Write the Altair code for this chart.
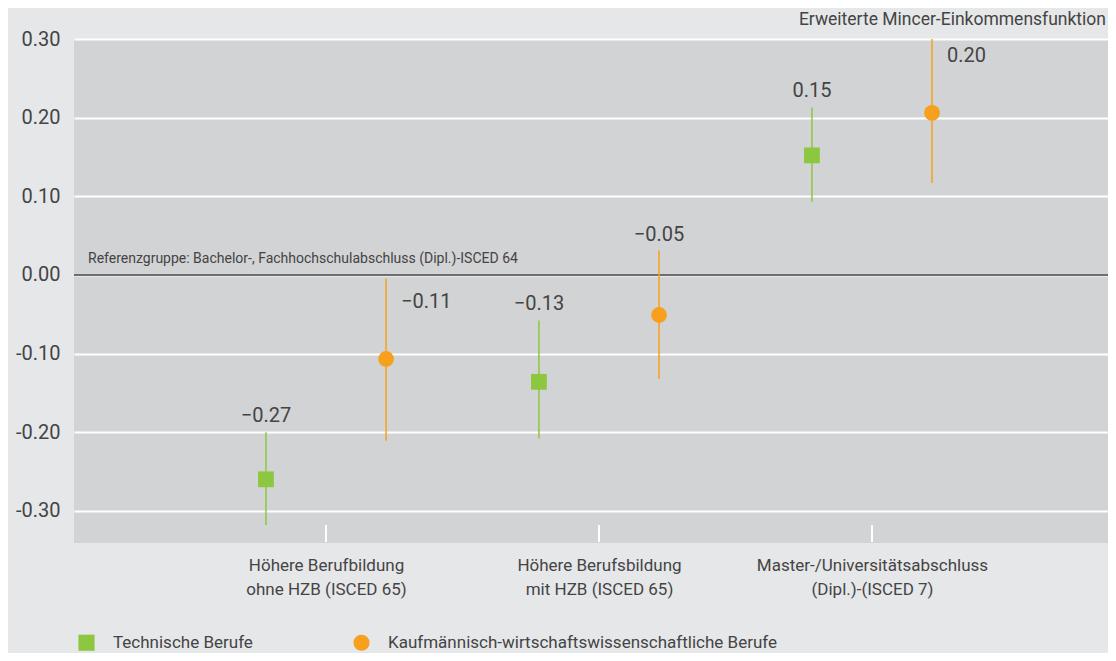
import altair as alt
import pandas as pd

# ---- data ----
group_ids = [1, 2, 3]
group_labels = [
    ["Höhere Berufbildung", "ohne HZB (ISCED 65)"],
    ["Höhere Berufsbildung", "mit HZB (ISCED 65)"],
    ["Master-/Universitätsabschluss", "(Dipl.)-(ISCED 7)"],
]
series_names = ["Technische Berufe", "Kaufmännisch-wirtschaftswissenschaftliche Berufe"]

tech_est = [-0.26, -0.136, 0.152]
tech_lo = [-0.318, -0.208, 0.093]
tech_hi = [-0.200, -0.058, 0.213]
tech_lbl = ["−0.27", "−0.13", "0.15"]
tech_place = ["top", "top", "top"]

kauf_est = [-0.107, -0.051, 0.206]
kauf_lo = [-0.211, -0.132, 0.117]
kauf_hi = [-0.005, 0.031, 0.300]
kauf_lbl = ["−0.11", "−0.05", "0.20"]
kauf_place = ["side", "top", "side"]

y_ticks = [-0.3, -0.2, -0.1, 0.0, 0.1, 0.2, 0.3]
ref_label = "Referenzgruppe: Bachelor-, Fachhochschulabschluss (Dipl.)-ISCED 64"
corner_title = "Erweiterte Mincer-Einkommensfunktion"

rows = []
for i, g in enumerate(group_ids):
    rows.append(dict(g=g, series=series_names[0], est=tech_est[i], lo=tech_lo[i],
                     hi=tech_hi[i], lbl=tech_lbl[i], place=tech_place[i]))
    rows.append(dict(g=g, series=series_names[1], est=kauf_est[i], lo=kauf_lo[i],
                     hi=kauf_hi[i], lbl=kauf_lbl[i], place=kauf_place[i]))
df = pd.DataFrame(rows)

FONT = "Roboto"
TXT = "#444444"
GREEN = "#8dc63f"
ORANGE = "#f7a01d"
NUM_SIZE = 20

# label expression for x axis
parts = []
for g, lab in zip(group_ids, group_labels):
    parts.append(f"datum.value == {g} ? ['{lab[0]}', '{lab[1]}']")
x_label_expr = " : ".join(parts) + " : ''"

x_scale = alt.Scale(domain=[0.0769, 3.8645], nice=False, zero=False)
y_scale = alt.Scale(domain=[-0.341, 0.30], nice=False, zero=False)

color_scale = alt.Scale(domain=series_names, range=[GREEN, ORANGE])
shape_scale = alt.Scale(domain=series_names, range=["square", "circle"])

base = alt.Chart(df).transform_calculate(
    xpos="datum.g + (datum.series == 'Technische Berufe' ? -0.22 : 0.22)"
)

x_enc = alt.X("xpos:Q", scale=x_scale,
              axis=alt.Axis(values=group_ids, labelExpr=x_label_expr, title=None,
                            ticks=False, domain=False, grid=False, labelLimit=500,
                            labelPadding=14, labelFontSize=17, labelLineHeight=24,
                            labelColor=TXT, labelFont=FONT))

zero_rule = alt.Chart(pd.DataFrame({"y": [0.0]})).mark_rule(
    color="#6d6e70", strokeWidth=2
).encode(y=alt.Y("y:Q", scale=y_scale,
                 axis=alt.Axis(values=y_ticks, title=None, ticks=False, domain=False,
                               gridColor="white", gridWidth=2, gridOpacity=1,
                               labelExpr="datum.value < 0 ? '-' + format(-datum.value, '.2f') : format(datum.value, '.2f')",
                               labelPadding=14, labelFontSize=NUM_SIZE, labelColor=TXT,
                               labelFont=FONT)))

ref_text = alt.Chart(pd.DataFrame({"y": [0.0], "t": [ref_label]})).mark_text(
    align="left", baseline="alphabetic", dy=-12, fontSize=14, font=FONT, color=TXT
).encode(x=alt.value(14), y=alt.Y("y:Q", scale=y_scale), text="t:N")

title_text = alt.Chart(pd.DataFrame({"t": [corner_title]})).mark_text(
    align="right", baseline="middle", fontSize=17.5, font=FONT, color=TXT
).encode(x=alt.value(1032), y=alt.value(-19), text="t:N")

x_ticks = alt.Chart(pd.DataFrame({"g": group_ids})).mark_rule(
    color="white", strokeWidth=2
).encode(x=alt.X("g:Q", scale=x_scale), y=alt.value(486), y2=alt.value(503))

whiskers = base.mark_rule(strokeWidth=1.5).encode(
    x=x_enc,
    y=alt.Y("lo:Q", scale=y_scale),
    y2="hi:Q",
    color=alt.Color("series:N", scale=color_scale),
)

points = base.mark_point(filled=True, opacity=1, size=250).encode(
    x=alt.X("xpos:Q", scale=x_scale),
    y=alt.Y("est:Q", scale=y_scale),
    color=alt.Color("series:N", scale=color_scale,
                    legend=alt.Legend(title=None, orient="none", legendX=4, legendY=595,
                                      direction="horizontal", symbolSize=260,
                                      labelFontSize=17, labelFont=FONT, labelColor=TXT,
                                      columnPadding=100, labelOffset=18, labelLimit=600,
                                      symbolStrokeWidth=0, symbolOpacity=1)),
    shape=alt.Shape("series:N", scale=shape_scale),
)

top_labels = base.transform_filter("datum.place == 'top'").mark_text(
    baseline="bottom", dy=-6, fontSize=NUM_SIZE, font=FONT, color=TXT
).encode(x=alt.X("xpos:Q", scale=x_scale), y=alt.Y("hi:Q", scale=y_scale), text="lbl:N")

side_labels = base.transform_filter("datum.place == 'side'").mark_text(
    align="left", baseline="middle", dx=15, dy=-57, fontSize=NUM_SIZE, font=FONT, color=TXT
).encode(x=alt.X("xpos:Q", scale=x_scale), y=alt.Y("est:Q", scale=y_scale), text="lbl:N")

chart = alt.layer(
    zero_rule, ref_text, title_text, x_ticks, whiskers, points, top_labels, side_labels
).properties(
    width=1034, height=504,
    autosize=alt.AutoSizeParams(type="none"),
    padding={"left": 66, "top": 31, "right": 0, "bottom": 110},
    background="#e6e7e9",
).configure_view(fill="#d2d3d5", strokeWidth=0)

chart.save("out.html", embed_options={"renderer": "svg", "actions": False})
